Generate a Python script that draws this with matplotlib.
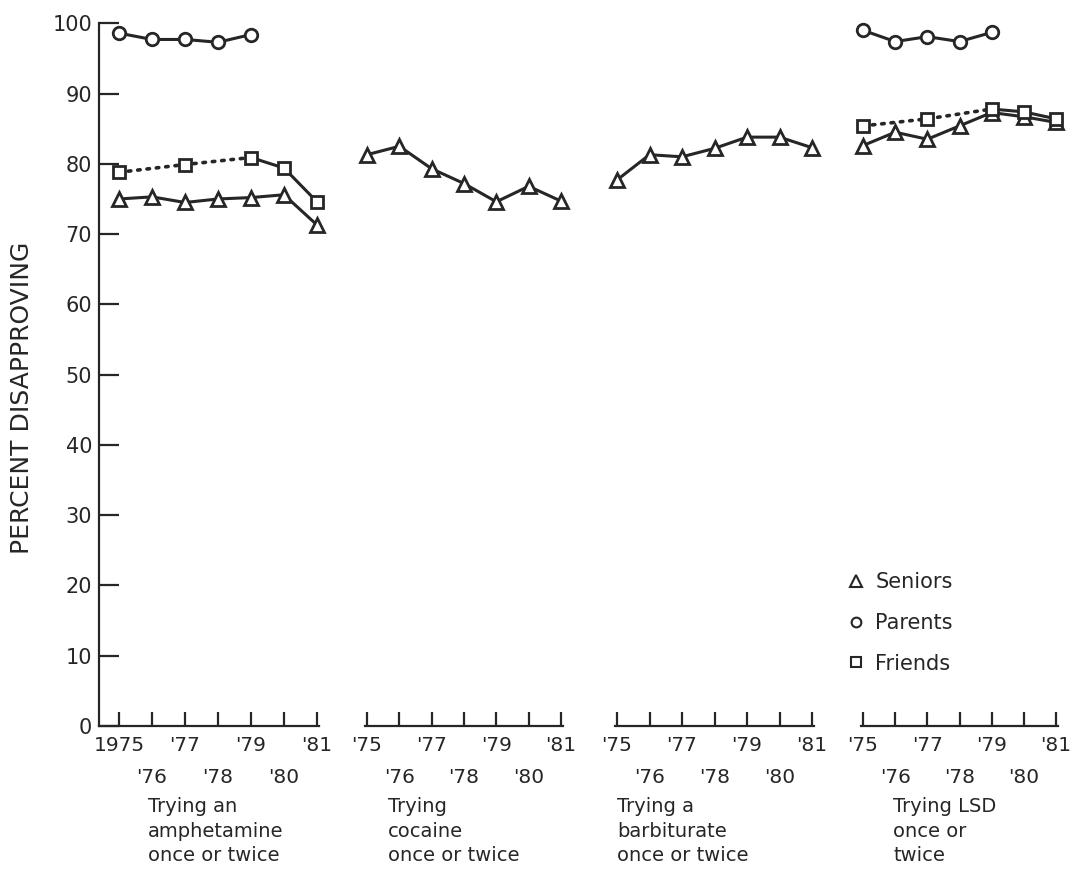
import matplotlib
matplotlib.use("Agg")
import matplotlib.pyplot as plt
from matplotlib.lines import Line2D

# ---- data -------------------------------------------------------------
years = [1975, 1976, 1977, 1978, 1979, 1980, 1981]
parent_years = [1975, 1976, 1977, 1978, 1979]
friend_years = [1975, 1977, 1979, 1980, 1981]

amph_seniors = [75.0, 75.3, 74.5, 75.0, 75.2, 75.6, 71.3]
amph_parents = [98.6, 97.7, 97.7, 97.3, 98.4]
amph_friends = [78.8, 79.9, 80.9, 79.4, 74.6]

coke_seniors = [81.3, 82.5, 79.3, 77.2, 74.6, 76.8, 74.7]

barb_seniors = [77.7, 81.3, 81.0, 82.2, 83.8, 83.8, 82.3]

lsd_seniors = [82.6, 84.5, 83.5, 85.4, 87.3, 86.7, 85.9]
lsd_parents = [99.0, 97.4, 98.1, 97.4, 98.7]
lsd_friends = [85.4, 86.4, 87.8, 87.4, 86.4]

odd_years = [1975, 1977, 1979, 1981]
even_years = [1976, 1978, 1980]
odd_labels_first = ["1975", "'77", "'79", "'81"]
odd_labels = ["'75", "'77", "'79", "'81"]
even_labels = ["'76", "'78", "'80"]

panel_titles = [
    "Trying an\namphetamine\nonce or twice",
    "Trying\ncocaine\nonce or twice",
    "Trying a\nbarbiturate\nonce or twice",
    "Trying LSD\nonce or\ntwice",
]
y_ticks = list(range(0, 101, 10))
legend_labels = ["Seniors", "Parents", "Friends"]

# ---- layout -----------------------------------------------------------
W, H = 1072, 883
INK = "#262626"
plt.rcParams["font.family"] = ["DejaVu Sans"]
plt.rcParams["text.color"] = INK
plt.rcParams["xtick.color"] = INK
plt.rcParams["ytick.color"] = INK

fig = plt.figure(figsize=(W / 100, H / 100), dpi=100)
fig.patch.set_facecolor("white")

Y100, Y0 = 23.3, 726.0  # pixel rows of 100 % and 0 %
# (axes left px, px of 1975, px of 1981, axes right px)
panels_px = [
    (99, 119, 317, 319),
    (365, 367, 561, 563),
    (615, 617, 812, 814),
    (861, 863, 1056, 1058),
]
title_x = [148, 388, 617, 893]

LW = 2.2
MEW = 2.0
DOTTED = (0, (0.7, 1.9))


def make_axes(px):
    left, x75, x81, right = px
    rect = [left / W, 1 - Y0 / H, (right - left) / W, (Y0 - Y100) / H]
    ax = fig.add_axes(rect)
    per_year = (x81 - x75) / 6.0
    ax.set_xlim(1975 + (left - x75) / per_year, 1975 + (right - x75) / per_year)
    ax.set_ylim(0, 100)
    ax.patch.set_alpha(0)
    for s in ("top", "right"):
        ax.spines[s].set_visible(False)
    for s in ("bottom", "left"):
        ax.spines[s].set_linewidth(1.6)
        ax.spines[s].set_color(INK)
    return ax


def style_x(ax, first):
    ax.set_xticks(odd_years)
    ax.set_xticklabels(odd_labels_first if first else odd_labels)
    ax.set_xticks(even_years, minor=True)
    ax.set_xticklabels(even_labels, minor=True)
    ax.tick_params(axis="x", which="major", direction="in", length=10,
                   width=1.6, pad=7, labelsize=14.5)
    ax.tick_params(axis="x", which="minor", direction="in", length=10,
                   width=1.6, pad=30, labelsize=14.5)


def draw_series(ax, xs, ys, ls="-", lw=LW):
    ax.plot(xs, ys, color=INK, lw=lw, ls=ls, clip_on=False, zorder=2,
            solid_capstyle="round", dash_capstyle="round")


def draw_marks(ax, xs, ys, marker, ms):
    ax.plot(xs, ys, ls="none", marker=marker, ms=ms, mfc="white", mec=INK,
            mew=MEW, clip_on=False, zorder=3)


axes = [make_axes(p) for p in panels_px]

for i, ax in enumerate(axes):
    style_x(ax, i == 0)
    if i == 0:
        ax.set_yticks(y_ticks)
        ax.set_yticklabels([str(v) for v in y_ticks])
        ax.tick_params(axis="y", direction="in", length=14.5, width=1.6,
                       pad=5, labelsize=15)
    else:
        ax.spines["left"].set_visible(False)
        ax.set_yticks([])

# amphetamine
a = axes[0]
draw_series(a, years, amph_seniors)
draw_series(a, parent_years, amph_parents)
draw_series(a, friend_years[:3], amph_friends[:3], ls=DOTTED, lw=2.6)
draw_series(a, friend_years[2:], amph_friends[2:])
draw_marks(a, years, amph_seniors, "^", 10)
draw_marks(a, parent_years, amph_parents, "o", 9)
draw_marks(a, friend_years, amph_friends, "s", 8.5)

# cocaine
c = axes[1]
draw_series(c, years, coke_seniors)
draw_marks(c, years, coke_seniors, "^", 10)

# barbiturate
b = axes[2]
draw_series(b, years, barb_seniors)
draw_marks(b, years, barb_seniors, "^", 10)

# LSD
l = axes[3]
draw_series(l, years, lsd_seniors)
draw_series(l, parent_years, lsd_parents)
draw_series(l, friend_years[:3], lsd_friends[:3], ls=DOTTED, lw=2.6)
draw_series(l, friend_years[2:], lsd_friends[2:])
draw_marks(l, years, lsd_seniors, "^", 10)
draw_marks(l, parent_years, lsd_parents, "o", 9)
draw_marks(l, friend_years, lsd_friends, "s", 8.5)

# panel captions
for x, t in zip(title_x, panel_titles):
    fig.text(x / W, 1 - 797 / H, t, ha="left", va="top", fontsize=14,
             linespacing=1.38)

# y label
fig.text(22 / W, 1 - 398 / H, "PERCENT DISAPPROVING", rotation=90,
         ha="center", va="center", fontsize=18)

# legend
handles = [
    Line2D([], [], ls="none", marker="^", ms=8, mfc="white", mec=INK, mew=1.5),
    Line2D([], [], ls="none", marker="o", ms=7, mfc="white", mec=INK, mew=1.5),
    Line2D([], [], ls="none", marker="s", ms=7, mfc="white", mec=INK, mew=1.5),
]
fig.legend(handles, legend_labels, loc="upper left",
           bbox_to_anchor=(846 / W, 1 - 572 / H), frameon=False,
           handlelength=1.0, handletextpad=0.4, labelspacing=1.0,
           borderpad=0, borderaxespad=0, fontsize=15)

fig.savefig("out.png", dpi=100, facecolor="white")
